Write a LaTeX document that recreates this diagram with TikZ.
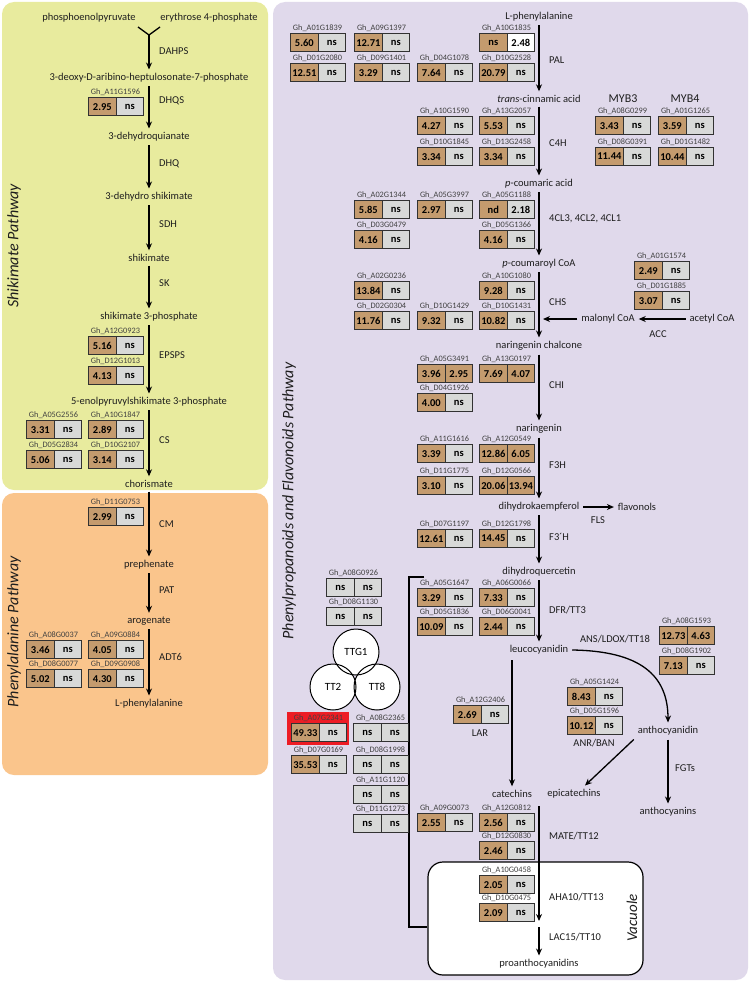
\documentclass[tikz,border=0pt]{standalone}
\usepackage{fontspec}
\setmainfont{Carlito}
\usetikzlibrary{arrows.meta}
\definecolor{pyellow}{RGB}{232,235,158}
\definecolor{porange}{RGB}{250,197,140}
\definecolor{plav}{RGB}{224,217,235}
\definecolor{cbrown}{RGB}{196,155,110}
\definecolor{cgray}{RGB}{216,217,216}
\definecolor{cred}{RGB}{237,28,36}
\definecolor{bord}{RGB}{50,50,50}
\definecolor{txt}{RGB}{30,30,30}
\tikzset{
 met/.style={font=\fontsize{10.5}{12}\selectfont, text=txt, inner sep=1pt, outer sep=3pt},
 enz/.style={font=\fontsize{10.5}{12}\selectfont, text=txt, anchor=west, inner sep=1pt},
 glab/.style={font=\fontsize{8.3}{9}\selectfont, text=black!75, inner sep=0pt, anchor=south},
 cell/.style={draw=bord, line width=1.2pt, minimum width=27.5pt, minimum height=18pt, inner sep=0pt, anchor=north west, font=\bfseries\fontsize{10.5}{11}\selectfont},
 arr/.style={line width=1.3pt, -{Stealth[length=7pt,width=6pt]}},
 plain/.style={line width=1.3pt},
 ttl/.style={font=\itshape\fontsize{16}{18}\selectfont, rotate=90, text=txt},
 circ/.style={circle, minimum size=46pt, inner sep=0pt, font=\fontsize{11}{12}\selectfont},
 panel/.style={rounded corners=12pt}
}
\newcommand\gb[8]{%
 \node[cell,fill=#6] (#1a) at (#2,#3) {#5};
 \node[cell,fill=#8] (#1b) at (#2+27.5,#3) {#7};
 \node[glab] (#1l) at (#2+27.5,#3-1.5) {#4};
}
\begin{document}
\begin{tikzpicture}[x=1pt,y=-1pt]
\useasboundingbox (0,0) rectangle (750,982);
% panels
\fill[pyellow,panel] (2,2) rectangle (268,490);
\fill[porange,panel] (2,493) rectangle (268,775);
\fill[plav,panel] (273,2) rectangle (748,980);
% titles
\node[ttl] (t1) at (14,246) {Shikimate Pathway};
\node[ttl] (t2) at (14,632) {Phenylalanine Pathway};
\node[ttl] (t3) at (289,501) {Phenylpropanoids and Flavonoids Pathway};
% ---------------- left column
\node[met] (pep) at (89,18) {phosphoenolpyruvate};
\node[met] (ery) at (209,18) {erythrose 4-phosphate};
\node[met] (dahp) at (149,78) {3-deoxy-D-aribino-heptulosonate-7-phosphate};
\node[met] (dhq) at (149,137) {3-dehydroquianate};
\node[met] (dhs) at (149,197) {3-dehydro shikimate};
\node[met] (shk) at (149,258) {shikimate};
\node[met] (s3p) at (149,317) {shikimate 3-phosphate};
\node[met] (eps) at (149,402) {5-enolpyruvylshikimate 3-phosphate};
\node[met] (cho) at (149,484) {chorismate};
\node[met] (pre) at (149,565) {prephenate};
\node[met] (aro) at (149,621) {arogenate};
\node[met] (lphe1) at (149,704) {L-phenylalanine};
\coordinate (yl) at (138,27);
\coordinate (yr) at (160,27);
\coordinate (yj) at (149,35);
\draw[plain] (yl) -- (yj) -- (yr);
\draw[arr] (yj) -- (dahp);
\draw[arr] (dahp) -- (dhq);
\draw[arr] (dhq) -- (dhs);
\draw[arr] (dhs) -- (shk);
\draw[arr] (shk) -- (s3p);
\draw[arr] (s3p) -- (eps);
\draw[arr] (eps) -- (cho);
\draw[arr] (cho) -- (pre);
\draw[arr] (pre) -- (aro);
\draw[arr] (aro) -- (lphe1);
\node[enz] (e1) at (158,51) {DAHPS};
\node[enz] (e2) at (158,101) {DHQS};
\node[enz] (e3) at (158,164) {DHQ};
\node[enz] (e4) at (158,224) {SDH};
\node[enz] (e5) at (158,283) {SK};
\node[enz] (e6) at (158,355) {EPSPS};
\node[enz] (e7) at (158,440) {CS};
\node[enz] (e8) at (158,524) {CM};
\node[enz] (e9) at (158,590) {PAT};
\node[enz] (e10) at (158,657) {ADT6};
\gb{dhqs}{88}{97}{Gh\_A11G1596}{2.95}{cbrown}{ns}{cgray}
\gb{epa}{88}{336}{Gh\_A12G0923}{5.16}{cbrown}{ns}{cgray}
\gb{epb}{88}{366}{Gh\_D12G1013}{4.13}{cbrown}{ns}{cgray}
\gb{csa}{26}{420}{Gh\_A05G2556}{3.31}{cbrown}{ns}{cgray}
\gb{csb}{88}{420}{Gh\_A10G1847}{2.89}{cbrown}{ns}{cgray}
\gb{csc}{26}{450}{Gh\_D05G2834}{5.06}{cbrown}{ns}{cgray}
\gb{csd}{88}{450}{Gh\_D10G2107}{3.14}{cbrown}{ns}{cgray}
\gb{cm}{88}{507}{Gh\_D11G0753}{2.99}{cbrown}{ns}{cgray}
\gb{ada}{26}{640}{Gh\_A08G0037}{3.46}{cbrown}{ns}{cgray}
\gb{adb}{88}{640}{Gh\_A09G0884}{4.05}{cbrown}{ns}{cgray}
\gb{adc}{26}{669}{Gh\_D08G0077}{5.02}{cbrown}{ns}{cgray}
\gb{add}{88}{669}{Gh\_D09G0908}{4.30}{cbrown}{ns}{cgray}
% ---------------- right column
\node[met] (lphe2) at (539,17) {L-phenylalanine};
\node[met] (cin) at (539,99) {\textit{trans}-cinnamic acid};
\node[met] (cou) at (539,184) {\textit{p}-coumaric acid};
\node[met] (coa) at (539,264) {\textit{p}-coumaroyl CoA};
\node[met] (nch) at (539,346) {naringenin chalcone};
\node[met] (nar) at (539,429) {naringenin};
\node[met] (dhk) at (539,507) {dihydrokaempferol};
\node[met] (dhq2) at (539,572) {dihydroquercetin};
\node[met] (leu) at (539,650) {leucocyanidin};
\node[met] (flav) at (637,507) {flavonols};
\node[met] (mal) at (608,319) {malonyl CoA};
\node[met] (ace) at (712,319) {acetyl CoA};
\node[met] (antho) at (668,731) {anthocyanidin};
\node[met] (acy) at (668,812) {anthocyanins};
\node[met] (cat) at (512,794) {catechins};
\node[met] (epi) at (574,794) {epicatechins};
\node[font=\fontsize{12}{14}\selectfont, text=txt] (myb3) at (623,99) {MYB3};
\node[font=\fontsize{12}{14}\selectfont, text=txt] (myb4) at (685,99) {MYB4};
% vacuole
\node[draw=black, fill=white, rounded corners=15pt, line width=1.2pt, minimum width=215pt, minimum height=113pt, inner sep=0pt] (vac) at (535.5,918.5) {};
\node[font=\itshape\fontsize{15}{17}\selectfont, rotate=90, text=txt] (vact) at (632,918) {Vacuole};
\node[met] (proan) at (539,964) {proanthocyanidins};
% arrows right
\draw[arr] (lphe2) -- (cin);
\draw[arr] (cin) -- (cou);
\draw[arr] (cou) -- (coa);
\draw[arr] (coa) -- (nch);
\draw[arr] (nch) -- (nar);
\draw[arr] (nar) -- (dhk);
\draw[arr] (dhk) -- (dhq2);
\draw[arr] (dhq2) -- (leu);
\draw[arr] (dhk) -- (flav);
\coordinate (malend) at (543,319);
\draw[arr] (mal) -- (malend);
\draw[arr] (ace) -- (mal);
\draw[arr] (leu.east) .. controls (640,651) and (668,675) .. (antho.north);
\draw[arr] (antho.south west) -- ([xshift=11pt]epi.north);
\draw[arr] (antho) -- (acy);
\coordinate (larstart) at (512,660);
\draw[arr] (larstart) -- (cat);
\coordinate (m1) at (539,806);
\coordinate (m2) at (539,921);
\coordinate (m3) at (539,927);
\draw[arr] (m1) -- (m2);
\draw[arr] (m3) -- (proan);
% bracket
\coordinate (br1) at (424,577);
\coordinate (br2) at (409,577);
\coordinate (br3) at (409,927);
\draw[line width=1.2pt] (br1) -- (br2) -- (br3) -- (br3 -| vac.west);
% enzyme labels right
\node[enz] (r1) at (548,60) {PAL};
\node[enz] (r2) at (548,143) {C4H};
\node[enz] (r3) at (548,219) {4CL3, 4CL2, 4CL1};
\node[enz] (r4) at (548,302) {CHS};
\node[enz] (r5) at (548,385) {CHI};
\node[enz] (r6) at (548,465) {F3H};
\node[enz] (r7) at (548,537) {F3´H};
\node[enz] (r8) at (548,610) {DFR/TT3};
\node[enz] (r9) at (548,836) {MATE/TT12};
\node[enz] (r10) at (548,897) {AHA10/TT13};
\node[enz] (r11) at (548,937) {LAC15/TT10};
\node[met] (acc) at (658,334) {ACC};
\node[met] (fls) at (598,520) {FLS};
\node[met] (ans) at (615,639) {ANS/LDOX/TT18};
\node[met] (anr) at (594,743) {ANR/BAN};
\node[met] (lar) at (480,733) {LAR};
\node[enz] (fgt) at (674,768) {FGTs};
% gene boxes right
\gb{pa}{290}{33}{Gh\_A01G1839}{5.60}{cbrown}{ns}{cgray}
\gb{pb}{354}{33}{Gh\_A09G1397}{12.71}{cbrown}{ns}{cgray}
\gb{pc}{479}{33}{Gh\_A10G1835}{ns}{cbrown}{2.48}{white}
\gb{pd}{290}{63}{Gh\_D01G2080}{12.51}{cbrown}{ns}{cgray}
\gb{pe}{354}{63}{Gh\_D09G1401}{3.29}{cbrown}{ns}{cgray}
\gb{pf}{417}{63}{Gh\_D04G1078}{7.64}{cbrown}{ns}{cgray}
\gb{pg}{479}{63}{Gh\_D10G2528}{20.79}{cbrown}{ns}{cgray}
\gb{ca}{417}{116}{Gh\_A10G1590}{4.27}{cbrown}{ns}{cgray}
\gb{cb}{479}{116}{Gh\_A13G2057}{5.53}{cbrown}{ns}{cgray}
\gb{cc}{417}{147}{Gh\_D10G1845}{3.34}{cbrown}{ns}{cgray}
\gb{cd}{479}{147}{Gh\_D13G2458}{3.34}{cbrown}{ns}{cgray}
\gb{ma}{595}{116}{Gh\_A08G0299}{3.43}{cbrown}{ns}{cgray}
\gb{mb}{658}{116}{Gh\_A01G1265}{3.59}{cbrown}{ns}{cgray}
\gb{mc}{595}{147}{Gh\_D08G0391}{11.44}{cbrown}{ns}{cgray}
\gb{md}{658}{147}{Gh\_D01G1482}{10.44}{cbrown}{ns}{cgray}
\gb{la}{354}{200}{Gh\_A02G1344}{5.85}{cbrown}{ns}{cgray}
\gb{lb}{417}{200}{Gh\_A05G3997}{2.97}{cbrown}{ns}{cgray}
\gb{lc}{479}{200}{Gh\_A05G1188}{nd}{cbrown}{2.18}{cgray}
\gb{ld}{354}{230}{Gh\_D03G0479}{4.16}{cbrown}{ns}{cgray}
\gb{le}{479}{230}{Gh\_D05G1366}{4.16}{cbrown}{ns}{cgray}
\gb{ha}{354}{281}{Gh\_A02G0236}{13.84}{cbrown}{ns}{cgray}
\gb{hb}{479}{281}{Gh\_A10G1080}{9.28}{cbrown}{ns}{cgray}
\gb{hc}{354}{311}{Gh\_D02G0304}{11.76}{cbrown}{ns}{cgray}
\gb{hd}{417}{311}{Gh\_D10G1429}{9.32}{cbrown}{ns}{cgray}
\gb{he}{479}{311}{Gh\_D10G1431}{10.82}{cbrown}{ns}{cgray}
\gb{aa}{634}{261}{Gh\_A01G1574}{2.49}{cbrown}{ns}{cgray}
\gb{ab}{634}{291}{Gh\_D01G1885}{3.07}{cbrown}{ns}{cgray}
\gb{ia}{417}{364}{Gh\_A05G3491}{3.96}{cbrown}{2.95}{cbrown}
\gb{ib}{479}{364}{Gh\_A13G0197}{7.69}{cbrown}{4.07}{cbrown}
\gb{ic}{417}{393}{Gh\_D04G1926}{4.00}{cbrown}{ns}{cgray}
\gb{fa}{417}{444}{Gh\_A11G1616}{3.39}{cbrown}{ns}{cgray}
\gb{fb}{479}{444}{Gh\_A12G0549}{12.86}{cbrown}{6.05}{cbrown}
\gb{fc}{417}{476}{Gh\_D11G1775}{3.10}{cbrown}{ns}{cgray}
\gb{fd}{479}{476}{Gh\_D12G0566}{20.06}{cbrown}{13.94}{cbrown}
\gb{ga}{417}{529}{Gh\_D07G1197}{12.61}{cbrown}{ns}{cgray}
\gb{gbb}{479}{529}{Gh\_D12G1798}{14.45}{cbrown}{ns}{cgray}
\gb{da}{417}{588}{Gh\_A05G1647}{3.29}{cbrown}{ns}{cgray}
\gb{db}{479}{588}{Gh\_A06G0066}{7.33}{cbrown}{ns}{cgray}
\gb{dc}{417}{617}{Gh\_D05G1836}{10.09}{cbrown}{ns}{cgray}
\gb{dd}{479}{617}{Gh\_D06G0041}{2.44}{cbrown}{ns}{cgray}
\gb{na}{659}{626}{Gh\_A08G1593}{12.73}{cbrown}{4.63}{cbrown}
\gb{nb}{659}{656}{Gh\_D08G1902}{7.13}{cbrown}{ns}{cgray}
\gb{ba}{567}{687}{Gh\_A05G1424}{8.43}{cbrown}{ns}{cgray}
\gb{bb}{567}{716}{Gh\_D05G1596}{10.12}{cbrown}{ns}{cgray}
\gb{lr}{453}{705}{Gh\_A12G2406}{2.69}{cbrown}{ns}{cgray}
% TT complex
\gb{ta}{326}{578}{Gh\_A08G0926}{ns}{cgray}{ns}{cgray}
\gb{tb}{326}{607}{Gh\_D08G1130}{ns}{cgray}{ns}{cgray}
\node[circ, fill=white] (ttg1f) at (356,652) {};
\node[circ, fill=white] (tt2f) at (333,687) {};
\node[circ, fill=white] (tt8f) at (377,687) {};
\node[circ, draw=black, line width=1pt] (ttg1) at (356,652) {TTG1};
\node[circ, draw=black, line width=1pt] (tt2) at (333,687) {TT2};
\node[circ, draw=black, line width=1pt] (tt8) at (377,687) {TT8};
\node[fill=cred, minimum width=62pt, minimum height=33pt, anchor=north west, inner sep=0pt] (redbg) at (287,712) {};
\gb{xa}{291}{723}{Gh\_A07G2341}{49.33}{cbrown}{ns}{cgray}
\gb{xb}{353}{723}{Gh\_A08G2365}{ns}{cgray}{ns}{cgray}
\gb{xc}{291}{755}{Gh\_D07G0169}{35.53}{cbrown}{ns}{cgray}
\gb{xd}{353}{755}{Gh\_D08G1998}{ns}{cgray}{ns}{cgray}
\gb{xe}{353}{785}{Gh\_A11G1120}{ns}{cgray}{ns}{cgray}
\gb{xf}{353}{814}{Gh\_D11G1273}{ns}{cgray}{ns}{cgray}
% MATE / AHA
\gb{ya}{417}{813}{Gh\_A09G0073}{2.55}{cbrown}{ns}{cgray}
\gb{yb}{479}{813}{Gh\_A12G0812}{2.56}{cbrown}{ns}{cgray}
\gb{yc}{479}{841}{Gh\_D12G0830}{2.46}{cbrown}{ns}{cgray}
\gb{za}{479}{875}{Gh\_A10G0458}{2.05}{cbrown}{ns}{cgray}
\gb{zb}{479}{903}{Gh\_D10G0475}{2.09}{cbrown}{ns}{cgray}
\end{tikzpicture}
\end{document}
